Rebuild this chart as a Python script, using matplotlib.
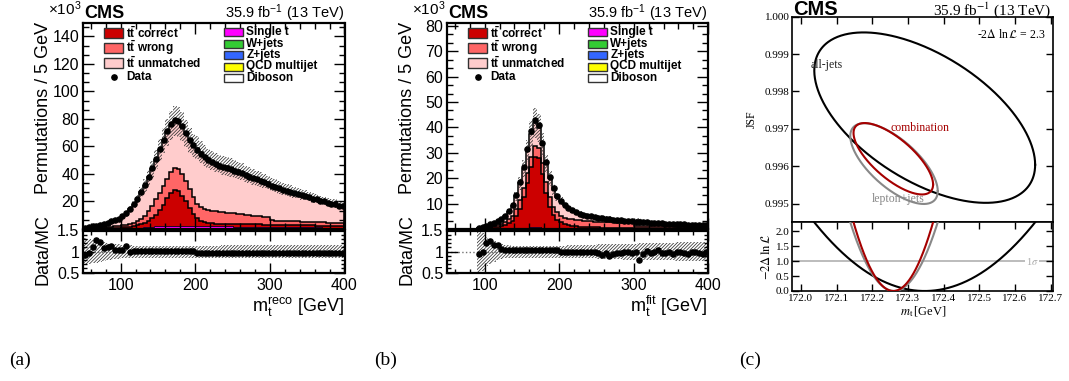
import numpy as np
import matplotlib
matplotlib.use('Agg')
import matplotlib.pyplot as plt
from matplotlib.patches import Rectangle
from matplotlib.lines import Line2D
from matplotlib.ticker import MultipleLocator, FixedLocator, FormatStrFormatter

plt.rcParams['font.family'] = ['Liberation Sans', 'DejaVu Sans']
plt.rcParams['mathtext.fontset'] = 'custom'
plt.rcParams['mathtext.rm'] = 'Liberation Sans'
plt.rcParams['mathtext.it'] = 'Liberation Sans:italic'
plt.rcParams['mathtext.bf'] = 'Liberation Sans:bold'
plt.rcParams['hatch.linewidth'] = 0.55

# ---------------- data (x10^3 permutations per 5 GeV, bins 50..400) ----------------
BIN_LO, BIN_HI, BIN_W = 50, 400, 5

a_data = [1.0, 1.5, 2.0, 2.5, 3.0, 3.5, 4.5, 5.5, 6.5, 7.5,
          9.5, 11.5, 14.5, 18.0, 22.0, 27.0, 32.0, 38.0, 44.0, 51.0,
          58.0, 65.0, 71.0, 76.0, 79.0, 78.5, 75.0, 70.0, 65.0, 61.0,
          57.5, 54.5, 52.0, 50.0, 48.5, 47.0, 46.0, 45.0, 44.5, 43.5,
          42.5, 41.5, 40.5, 39.0, 38.0, 37.0, 36.0, 35.0, 34.0, 33.0,
          31.5, 30.5, 29.5, 28.5, 27.5, 27.0, 26.0, 25.5, 24.5, 24.0,
          23.0, 22.0, 21.5, 20.5, 20.0, 19.0, 18.5, 18.0, 17.0, 16.5]
a_total = [1.08, 1.55, 1.8, 1.95, 2.45, 3.25, 4.1, 4.9, 6.2, 7.2,
           9.1, 10.2, 14.6, 17.8, 21.8, 26.7, 31.6, 37.5, 43.5, 50.5,
           57.5, 64.4, 70.3, 75.2, 78.2, 77.8, 74.3, 69.4, 64.5, 60.5,
           59.0, 55.9, 53.3, 51.3, 49.7, 48.2, 47.2, 46.1, 45.6, 44.6,
           43.6, 42.6, 41.5, 40.0, 39.0, 37.9, 36.9, 35.9, 34.9, 33.8,
           32.3, 31.3, 30.3, 29.2, 28.2, 27.7, 26.7, 26.2, 25.1, 24.6,
           23.6, 22.6, 22.0, 21.0, 20.5, 19.5, 19.0, 18.5, 17.4, 16.9]
a_wrong_top = [0.5, 0.6, 0.7, 0.8, 1.0, 1.2, 1.4, 1.6, 1.9, 2.2,
               2.6, 3.0, 3.6, 4.4, 5.5, 7.2, 9.6, 13.0, 17.0, 21.5,
               26.0, 31.0, 36.5, 41.5, 44.0, 43.5, 40.0, 35.0, 29.0, 23.0,
               18.5, 16.0, 14.5, 13.8, 13.3, 12.9, 12.5, 12.2, 11.9, 11.6,
               11.3, 11.0, 10.7, 10.4, 10.1, 9.8, 9.5, 9.2, 8.9, 8.6,
               6.2, 6.1, 6.0, 5.9, 5.8, 5.7, 5.6, 5.5, 5.4, 5.3,
               5.2, 5.1, 5.0, 4.9, 4.8, 4.7, 4.6, 4.5, 4.4, 4.3]
a_correct_top = [0.3, 0.35, 0.4, 0.45, 0.5, 0.6, 0.7, 0.8, 0.9, 1.0,
                 1.2, 1.4, 1.7, 2.1, 2.7, 3.5, 4.6, 6.0, 8.0, 10.5,
                 13.8, 17.8, 22.2, 26.5, 28.6, 27.6, 24.2, 20.0, 15.2, 11.0,
                 8.0, 6.0, 4.8, 4.3, 4.0, 3.9, 3.8, 3.8, 3.7, 3.7,
                 3.6, 3.6, 3.5, 3.5, 3.4, 3.4, 3.3, 3.3, 3.2, 3.2,
                 3.1, 3.1, 3.0, 3.0, 2.9, 2.9, 2.8, 2.8, 2.7, 2.7,
                 2.6, 2.6, 2.5, 2.5, 2.4, 2.4, 2.3, 2.3, 2.2, 2.2]
a_singlet = [0.05, 0.05, 0.06, 0.07, 0.08, 0.10, 0.12, 0.14, 0.17, 0.20,
             0.24, 0.28, 0.33, 0.40, 0.48, 0.58, 0.70, 0.85, 1.00, 1.15,
             1.30, 1.40, 1.50, 1.60, 1.65, 1.65, 1.60, 1.55, 1.50, 1.45,
             1.40, 1.38, 1.35, 1.32, 1.30, 1.28, 1.25, 1.22, 1.20, 1.18,
             1.15, 1.12, 1.10, 1.08, 1.05, 1.02, 1.00, 0.98, 0.96, 0.94,
             0.92, 0.90, 0.88, 0.86, 0.84, 0.82, 0.80, 0.78, 0.76, 0.74,
             0.72, 0.70, 0.68, 0.66, 0.64, 0.62, 0.60, 0.58, 0.56, 0.55]
a_wjets = [0.02, 0.02, 0.03, 0.03, 0.04, 0.05, 0.06, 0.07, 0.08, 0.09,
           0.10, 0.12, 0.14, 0.16, 0.19, 0.22, 0.25, 0.28, 0.31, 0.34,
           0.37, 0.40, 0.42, 0.44, 0.45, 0.45, 0.45, 0.44, 0.43, 0.42,
           0.42, 0.41, 0.41, 0.40, 0.40, 0.39, 0.39, 0.38, 0.38, 0.37,
           0.37, 0.36, 0.36, 0.35, 0.35, 0.34, 0.34, 0.33, 0.33, 0.32,
           0.32, 0.31, 0.31, 0.30, 0.30, 0.29, 0.29, 0.28, 0.28, 0.27,
           0.27, 0.26, 0.26, 0.25, 0.25, 0.24, 0.24, 0.23, 0.23, 0.22]
a_zjets = [0.01, 0.01, 0.01, 0.01, 0.01, 0.01, 0.02, 0.02, 0.02, 0.02,
           0.03, 0.03, 0.03, 0.04, 0.04, 0.05, 0.05, 0.06, 0.06, 0.07,
           0.07, 0.08, 0.08, 0.08, 0.08, 0.08, 0.08, 0.08, 0.08, 0.08,
           0.08, 0.08, 0.08, 0.07, 0.07, 0.07, 0.07, 0.07, 0.07, 0.07,
           0.07, 0.07, 0.07, 0.06, 0.06, 0.06, 0.06, 0.06, 0.06, 0.06,
           0.06, 0.06, 0.06, 0.05, 0.05, 0.05, 0.05, 0.05, 0.05, 0.05,
           0.05, 0.05, 0.05, 0.04, 0.04, 0.04, 0.04, 0.04, 0.04, 0.04]
a_qcd = [0.03, 0.03, 0.04, 0.04, 0.05, 0.05, 0.06, 0.07, 0.08, 0.09,
         0.10, 0.11, 0.12, 0.14, 0.16, 0.18, 0.20, 0.22, 0.24, 0.26,
         0.28, 0.30, 0.30, 0.30, 0.30, 0.30, 0.29, 0.28, 0.27, 0.26,
         0.26, 0.25, 0.25, 0.24, 0.24, 0.23, 0.23, 0.22, 0.22, 0.22,
         0.21, 0.21, 0.21, 0.20, 0.20, 0.20, 0.19, 0.19, 0.19, 0.18,
         0.18, 0.18, 0.17, 0.17, 0.17, 0.16, 0.16, 0.16, 0.15, 0.15,
         0.15, 0.14, 0.14, 0.14, 0.13, 0.13, 0.13, 0.12, 0.12, 0.12]
a_diboson = [0.0, 0.0, 0.0, 0.0, 0.0, 0.0, 0.0, 0.0, 0.01, 0.01,
             0.01, 0.01, 0.01, 0.01, 0.01, 0.01, 0.01, 0.01, 0.01, 0.01,
             0.01, 0.01, 0.01, 0.01, 0.01, 0.01, 0.01, 0.01, 0.01, 0.01,
             0.01, 0.01, 0.01, 0.01, 0.01, 0.01, 0.01, 0.01, 0.01, 0.01,
             0.01, 0.01, 0.01, 0.01, 0.01, 0.01, 0.01, 0.01, 0.01, 0.01,
             0.01, 0.01, 0.01, 0.01, 0.01, 0.01, 0.01, 0.01, 0.01, 0.01,
             0.01, 0.01, 0.01, 0.01, 0.01, 0.01, 0.01, 0.01, 0.01, 0.01]
a_relunc = [0.32, 0.30, 0.28, 0.26, 0.24, 0.22, 0.20, 0.19, 0.18, 0.17,
            0.16, 0.15, 0.15, 0.14, 0.14, 0.14, 0.14, 0.14, 0.14, 0.14,
            0.14, 0.14, 0.14, 0.14, 0.14, 0.14, 0.14, 0.14, 0.14, 0.14,
            0.14, 0.14, 0.14, 0.14, 0.14, 0.14, 0.14, 0.15, 0.15, 0.15,
            0.15, 0.15, 0.15, 0.15, 0.15, 0.15, 0.15, 0.15, 0.15, 0.15,
            0.15, 0.15, 0.15, 0.15, 0.15, 0.15, 0.15, 0.15, 0.15, 0.15,
            0.15, 0.15, 0.15, 0.15, 0.15, 0.16, 0.16, 0.16, 0.16, 0.16]

b_data = [0, 0, 0, 0, 0, 0, 0, 0,
          0.3, 0.8, 1.3, 1.8, 2.3, 3.0, 4.0, 5.3, 7.0, 9.3,
          13.2, 18.5, 24.5, 31.5, 38.5, 43.0, 41.0, 34.0, 26.5, 20.5,
          16.0, 13.0, 11.0, 9.4, 8.2, 7.3, 6.6, 6.0, 5.6, 5.3,
          5.0, 4.7, 4.5, 4.3, 4.1, 3.9, 3.7, 3.55, 3.4, 3.25,
          3.1, 3.0, 2.9, 2.8, 2.7, 2.6, 2.5, 2.4, 2.3, 2.2,
          2.1, 2.05, 2.0, 1.9, 1.85, 1.8, 1.7, 1.65, 1.6, 1.55, 1.5, 1.45]
b_total = [0, 0, 0, 0, 0, 0, 0, 0,
           0.32, 0.8, 1.08, 1.43, 2.0, 2.59, 3.81, 5.15, 6.8, 9.03,
           12.8, 17.96, 23.8, 30.6, 37.4, 41.7, 39.8, 33.0, 25.7, 19.9,
           15.5, 12.6, 11.0, 9.4, 8.2, 7.3, 6.6, 6.0, 5.6, 5.3,
           5.0, 4.7, 4.6, 4.62, 4.23, 4.33, 3.89, 3.7, 3.5, 3.28,
           3.1, 3.09, 2.96, 3.5, 2.84, 2.55, 2.58, 2.4, 2.23, 2.27,
           2.16, 2.05, 2.1, 1.94, 1.85, 1.86, 1.79, 1.65, 1.63, 1.61, 1.61, 1.45]
b_wrong_top = [0, 0, 0, 0, 0, 0, 0, 0,
               0.2, 0.35, 0.55, 0.8, 1.1, 1.5, 2.0, 2.8, 3.8, 5.3,
               7.7, 11.3, 16.0, 22.0, 28.5, 32.5, 32.0, 26.0, 18.5, 12.5,
               8.8, 6.5, 5.2, 4.5, 4.1, 3.8, 3.6, 3.4, 3.2, 3.1,
               3.0, 2.9, 2.8, 2.75, 2.7, 2.65, 2.6, 2.55, 2.5, 2.45,
               2.4, 2.35, 1.3, 1.27, 1.24, 1.21, 1.18, 1.15, 1.12, 1.09,
               1.06, 1.03, 1.0, 0.98, 0.96, 0.94, 0.92, 0.9, 0.88, 0.86, 0.84, 0.82]
b_correct_top = [0, 0, 0, 0, 0, 0, 0, 0,
                 0.1, 0.2, 0.3, 0.4, 0.6, 0.8, 1.1, 1.6, 2.3, 3.3,
                 5.0, 8.0, 12.5, 18.0, 24.5, 28.5, 28.0, 21.5, 14.0, 8.5,
                 5.5, 3.7, 2.6, 1.9, 1.5, 1.2, 1.0, 0.9, 0.8, 0.75,
                 0.7, 0.65, 0.6, 0.58, 0.55, 0.52, 0.5, 0.48, 0.46, 0.44,
                 0.42, 0.4, 0.38, 0.36, 0.35, 0.34, 0.33, 0.32, 0.31, 0.3,
                 0.29, 0.28, 0.27, 0.26, 0.25, 0.24, 0.23, 0.22, 0.21, 0.2, 0.2, 0.19]
b_singlet = [0, 0, 0, 0, 0, 0, 0, 0,
             0.01, 0.02, 0.03, 0.04, 0.05, 0.06, 0.08, 0.10, 0.13, 0.16,
             0.20, 0.25, 0.30, 0.36, 0.42, 0.46, 0.45, 0.40, 0.33, 0.27,
             0.23, 0.20, 0.18, 0.17, 0.16, 0.15, 0.14, 0.14, 0.13, 0.13,
             0.12, 0.12, 0.12, 0.11, 0.11, 0.11, 0.10, 0.10, 0.10, 0.10,
             0.10, 0.09, 0.09, 0.09, 0.09, 0.09, 0.09, 0.08, 0.08, 0.08,
             0.08, 0.08, 0.08, 0.08, 0.08, 0.07, 0.07, 0.07, 0.07, 0.07, 0.07, 0.07]
b_wjets = [0, 0, 0, 0, 0, 0, 0, 0,
           0.005, 0.01, 0.01, 0.015, 0.02, 0.02, 0.025, 0.03, 0.035, 0.04,
           0.05, 0.06, 0.07, 0.08, 0.09, 0.10, 0.10, 0.09, 0.08, 0.07,
           0.06, 0.055, 0.05, 0.05, 0.045, 0.045, 0.04, 0.04, 0.04, 0.04,
           0.04, 0.04, 0.035, 0.035, 0.035, 0.035, 0.03, 0.03, 0.03, 0.03,
           0.03, 0.03, 0.03, 0.03, 0.03, 0.025, 0.025, 0.025, 0.025, 0.025,
           0.025, 0.025, 0.025, 0.02, 0.02, 0.02, 0.02, 0.02, 0.02, 0.02, 0.02, 0.02]
b_zjets = [0, 0, 0, 0, 0, 0, 0, 0,
           0.0, 0.0, 0.005, 0.005, 0.005, 0.005, 0.01, 0.01, 0.01, 0.01,
           0.015, 0.015, 0.02, 0.02, 0.02, 0.02, 0.02, 0.02, 0.02, 0.015,
           0.015, 0.01, 0.01, 0.01, 0.01, 0.01, 0.01, 0.01, 0.01, 0.01,
           0.01, 0.01, 0.01, 0.01, 0.01, 0.01, 0.01, 0.01, 0.01, 0.01,
           0.01, 0.01, 0.01, 0.01, 0.01, 0.01, 0.01, 0.01, 0.01, 0.01,
           0.01, 0.01, 0.01, 0.01, 0.01, 0.01, 0.01, 0.01, 0.01, 0.01, 0.01, 0.01]
b_qcd = [0, 0, 0, 0, 0, 0, 0, 0,
         0.005, 0.01, 0.01, 0.01, 0.015, 0.015, 0.02, 0.02, 0.025, 0.03,
         0.035, 0.04, 0.05, 0.06, 0.06, 0.07, 0.07, 0.06, 0.06, 0.05,
         0.05, 0.045, 0.04, 0.04, 0.04, 0.035, 0.035, 0.035, 0.035, 0.03,
         0.03, 0.03, 0.03, 0.03, 0.03, 0.03, 0.03, 0.03, 0.03, 0.03,
         0.03, 0.03, 0.03, 0.03, 0.03, 0.03, 0.03, 0.03, 0.03, 0.03,
         0.03, 0.03, 0.03, 0.03, 0.03, 0.03, 0.03, 0.03, 0.03, 0.03, 0.03, 0.03]
b_diboson = [0, 0, 0, 0, 0, 0, 0, 0,
             0, 0, 0, 0, 0, 0, 0, 0, 0, 0,
             0, 0, 0.005, 0.005, 0.005, 0.005, 0.005, 0.005, 0.005, 0,
             0, 0, 0, 0, 0, 0, 0, 0, 0, 0,
             0, 0, 0, 0, 0, 0, 0, 0, 0, 0,
             0, 0, 0, 0, 0, 0, 0, 0, 0, 0,
             0, 0, 0, 0, 0, 0, 0, 0, 0, 0, 0, 0]
b_relunc = [0, 0, 0, 0, 0, 0, 0, 0,
            1.0, 0.45, 0.35, 0.30, 0.25, 0.21, 0.18, 0.16, 0.15, 0.14,
            0.14, 0.14, 0.14, 0.14, 0.14, 0.14, 0.14, 0.14, 0.14, 0.14,
            0.14, 0.14, 0.14, 0.14, 0.15, 0.15, 0.15, 0.15, 0.15, 0.16,
            0.16, 0.16, 0.17, 0.17, 0.17, 0.18, 0.18, 0.18, 0.18, 0.19,
            0.19, 0.19, 0.19, 0.20, 0.20, 0.20, 0.20, 0.20, 0.21, 0.21,
            0.21, 0.21, 0.21, 0.22, 0.22, 0.22, 0.22, 0.22, 0.23, 0.23, 0.23, 0.23]

# panel (c): 2D likelihood contours (mt [GeV], JSF)
ALLJETS = dict(mt=172.347, jsf=0.99730, s_mt=0.204, s_jsf=0.001503, rho=-0.553)
LEPJETS = dict(mt=172.261, jsf=0.99607, s_mt=0.0808, s_jsf=0.000712, rho=-0.68)
COMBINED = dict(mt=172.259, jsf=0.99620, s_mt=0.0735, s_jsf=0.00063, rho=-0.72)
CONTOUR_LEVEL = 2.3

# ---------------- figure ----------------
W, H = 1069, 381
fig = plt.figure(figsize=(W / 100, H / 100), dpi=100)


def fax(l, t, r, b):
    return fig.add_axes([l / W, 1 - b / H, (r - l) / W, (b - t) / H])


def ftext(x, y, s, **kw):
    kw.setdefault('va', 'baseline')
    return fig.text(x / W, 1 - y / H, s, **kw)


def frect(x0, y0, x1, y1, **kw):
    fig.add_artist(Rectangle((x0 / W, 1 - y1 / H), (x1 - x0) / W, (y1 - y0) / H,
                             transform=fig.transFigure, **kw))


edges = np.arange(BIN_LO, BIN_HI + BIN_W, BIN_W)
centers = edges[:-1] + BIN_W / 2

C_COR = '#cc0000'
C_WRO = '#ff6666'
C_UNM = '#ffcccc'
C_ST = '#ff00ff'
C_WJ = '#33cc33'
C_ZJ = '#3366ff'
C_QCD = '#ffff00'
C_DB = '#ffffff'
HATCH = '/' * 10
HATCH_COL = '#333333'
MS = 3.7


def style_hist_axes(ax):
    ax.set_xlim(BIN_LO, BIN_HI)
    ax.xaxis.set_major_locator(MultipleLocator(100))
    ax.xaxis.set_minor_locator(MultipleLocator(20))
    ax.tick_params(which='both', direction='in', top=True, right=True, width=1,
                   labelsize=11.5, pad=3)
    ax.tick_params(which='major', length=8)
    ax.tick_params(which='minor', length=4)
    for s in ax.spines.values():
        s.set_linewidth(1.6)


def hist_panel(xl, xr, data, total, cor_top, wro_top, bkgs, relunc, ymax, major, xlab, tag, tagx):
    data = np.array(data, float)
    total = np.array(total, float)
    cor_top = np.array(cor_top, float)
    wro_top = np.array(wro_top, float)
    relunc = np.array(relunc, float)

    ax = fax(xl, 23.3, xr, 229)
    rax = fax(xl, 230.5, xr, 272.7)

    base = np.zeros(len(total))
    for vals, col in bkgs:
        top = base + np.array(vals, float)
        ax.stairs(top, edges, baseline=base, fill=True, facecolor=col, edgecolor='none', zorder=1.2)
        ax.stairs(top, edges, color='k', lw=0.6, zorder=1.3)
        base = top
    ax.stairs(cor_top, edges, baseline=base, fill=True, facecolor=C_COR, edgecolor='none', zorder=1.0)
    ax.stairs(wro_top, edges, baseline=cor_top, fill=True, facecolor=C_WRO, edgecolor='none', zorder=1.0)
    ax.stairs(total, edges, baseline=wro_top, fill=True, facecolor=C_UNM, edgecolor='none', zorder=1.0)
    for top in (cor_top, wro_top, total):
        ax.stairs(top, edges, color='k', lw=1.1, zorder=1.5)

    ax.stairs(total * (1 + relunc), edges, baseline=total * (1 - relunc), fill=True,
              facecolor='none', edgecolor=HATCH_COL, hatch=HATCH, lw=0, zorder=1.8)
    m = data > 0
    ax.plot(centers[m], data[m], 'o', color='k', ms=MS, zorder=3)

    style_hist_axes(ax)
    ax.set_ylim(0, ymax)
    ax.yaxis.set_major_locator(FixedLocator(list(np.arange(major, ymax, major))))
    ax.yaxis.set_minor_locator(MultipleLocator(major / 3))
    ax.tick_params(labelbottom=False)

    # ratio panel
    idx = np.nonzero(total > 0)[0]
    i0, i1 = idx[0], idx[-1]
    rax.stairs(1 + relunc[i0:i1 + 1], edges[i0:i1 + 2], baseline=1 - relunc[i0:i1 + 1], fill=True,
               facecolor='none', edgecolor=HATCH_COL, hatch=HATCH, lw=0, zorder=1.5)
    rax.axhline(1.0, color='0.45', ls=':', lw=1.0, zorder=1.2)
    mr = (data > 0) & (total > 0)
    rax.plot(centers[mr], data[mr] / total[mr], 'o', color='k', ms=MS, zorder=3, clip_on=True)
    style_hist_axes(rax)
    rax.set_ylim(0.5, 1.5)
    rax.yaxis.set_major_locator(FixedLocator([0.5, 1.0, 1.5]))
    rax.yaxis.set_minor_locator(MultipleLocator(0.1))
    rax.set_yticklabels(['0.5', '1', '1.5'])
    rax.tick_params(which='minor', length=3)
    rax.tick_params(axis='x', which='major', length=7)
    rax.tick_params(axis='x', pad=4)

    # labels
    fig.text((xl - 40) / W, 1 - 22 / H, 'Permutations / 5 GeV', rotation=90, ha='center', va='top', fontsize=13)
    fig.text((xl - 40) / W, 1 - 250 / H, 'Data/MC', rotation=90, ha='center', va='center', fontsize=13)
    ftext(xr - 1, 312, xlab, ha='right', fontsize=13)
    ftext(xl + 0.5, 18.3, 'CMS', fontweight='bold', fontsize=13)
    ftext(xl - 2, 15, r'$\times10^{3}$', ha='right', fontsize=11)
    ftext(xr - 1, 18.3, r'35.9 fb$^{-1}$ (13 TeV)', ha='right', fontsize=10.5)
    ftext(tagx, 365, tag, ha='center', fontsize=14, family='Liberation Serif')

    # legend
    rows_l = [(33, C_COR, r'$\mathbf{t\bar{t}}$ correct'),
              (48, C_WRO, r'$\mathbf{t\bar{t}}$ wrong'),
              (63, C_UNM, r'$\mathbf{t\bar{t}}$ unmatched')]
    for y, col, lab in rows_l:
        frect(xl + 21, y - 4.6, xl + 40, y + 4.6, facecolor=col, edgecolor='0.2', lw=1.0)
        ftext(xl + 43, y, lab, va='center', fontsize=8.5, fontweight='bold')
    fig.add_artist(Line2D([(xl + 30.5) / W], [1 - 77 / H], marker='o', color='k', ms=3.8,
                          transform=fig.transFigure))
    ftext(xl + 43, 77, 'Data', va='center', fontsize=8.5, fontweight='bold')
    rows_r = [(32, C_ST, 'Single t'), (43.5, C_WJ, 'W+jets'), (55, C_ZJ, 'Z+jets'),
              (66.5, C_QCD, 'QCD multijet'), (78, C_DB, 'Diboson')]
    for y, col, lab in rows_r:
        frect(xl + 141, y - 4, xl + 160, y + 4, facecolor=col, edgecolor='0.2', lw=1.0)
        ftext(xl + 163, y, lab, va='center', fontsize=8.5, fontweight='bold')
    return ax, rax


hist_panel(83.3, 344.5, a_data, a_total, a_correct_top, a_wrong_top,
           [(a_diboson, C_DB), (a_qcd, C_QCD), (a_zjets, C_ZJ), (a_wjets, C_WJ), (a_singlet, C_ST)],
           a_relunc, 149.5, 20, r'$\mathrm{m}_{\mathrm{t}}^{\mathrm{reco}}$ [GeV]', '(a)', 20)
hist_panel(447.3, 708.3, b_data, b_total, b_correct_top, b_wrong_top,
           [(b_diboson, C_DB), (b_qcd, C_QCD), (b_zjets, C_ZJ), (b_wjets, C_WJ), (b_singlet, C_ST)],
           b_relunc, 81.0, 10, r'$\mathrm{m}_{\mathrm{t}}^{\mathrm{fit}}$ [GeV]', '(b)', 386)

# ---------------- panel (c) ----------------
SERIF = 'Liberation Serif'
cm = fax(792.3, 16.7, 1052.7, 222.3)
cl = fax(792.3, 222.3, 1052.7, 291)
XL = (171.976, 172.7056)
tt = np.linspace(0, 2 * np.pi, 500)
k = np.sqrt(CONTOUR_LEVEL)
mgrid = np.linspace(XL[0], XL[1], 600)
for par, col in ((ALLJETS, 'black'), (LEPJETS, '#888888'), (COMBINED, '#a50000')):
    x = par['mt'] + k * par['s_mt'] * np.cos(tt)
    y = par['jsf'] + k * par['s_jsf'] * (par['rho'] * np.cos(tt) + np.sqrt(1 - par['rho'] ** 2) * np.sin(tt))
    cm.plot(x, y, color=col, lw=1.5)
    cl.plot(mgrid, ((mgrid - par['mt']) / par['s_mt']) ** 2, color=col, lw=1.5, zorder=3)

cl.axhline(1.0, color='#aaaaaa', lw=1.1, zorder=1)
cl.text(172.648, 1.0, r'1$\sigma$', color='#aaaaaa', fontsize=7.5, ha='center', va='center',
        family=SERIF, math_fontfamily='stix', bbox=dict(facecolor='white', edgecolor='none', pad=0.5), zorder=2)

cm.set_xlim(*XL)
cm.set_ylim(0.9945, 1.000)
cl.set_xlim(*XL)
cl.set_ylim(0, 2.3)
ticks_x = [172.0, 172.1, 172.2, 172.3, 172.4, 172.5, 172.6, 172.7]
for a in (cm, cl):
    a.xaxis.set_major_locator(FixedLocator(ticks_x))
    a.tick_params(which='both', direction='in', top=True, right=True, length=5, width=1,
                  labelsize=8, labelfontfamily=SERIF, pad=2)
    for s in a.spines.values():
        s.set_linewidth(1.2)
cm.tick_params(labelbottom=False, bottom=False)
cm.yaxis.set_major_locator(FixedLocator([0.995, 0.996, 0.997, 0.998, 0.999, 1.000]))
cm.yaxis.set_major_formatter(FormatStrFormatter('%.3f'))
cl.yaxis.set_major_locator(FixedLocator([0.0, 0.5, 1.0, 1.5, 2.0]))
cl.yaxis.set_major_formatter(FormatStrFormatter('%.1f'))
cl.xaxis.set_major_formatter(FormatStrFormatter('%.1f'))

cm.text(172.071, 0.99872, 'all-jets', fontsize=8.5, family=SERIF, color='#222222', ha='center', va='center')
cm.text(172.335, 0.99703, 'combination', fontsize=8.5, family=SERIF, color='#a50000', ha='center', va='center')
cm.text(172.273, 0.99511, 'lepton+jets', fontsize=8.5, family=SERIF, color='#888888', ha='center', va='center')
cm.text(172.686, 0.99953, r'-2$\Delta$ ln$\,\mathcal{L}$ = 2.3', fontsize=8.5, family=SERIF,
        math_fontfamily='stix', ha='right', va='center')

fig.text(752 / W, 1 - 119 / H, 'JSF', rotation=90, ha='center', va='center', fontsize=8.5, family=SERIF)
fig.text(767 / W, 1 - 257 / H, r'$-2\Delta\,\ln\mathcal{L}$', rotation=90, ha='center', va='center',
         fontsize=9, math_fontfamily='stix')
fig.text(923 / W, 1 - 312 / H, r'$m_{\mathrm{t}}\,$[GeV]', ha='center', va='center', fontsize=9,
         family=SERIF, math_fontfamily='stix')
ftext(792.8, 15, 'CMS', fontweight='bold', fontsize=14.5)
ftext(1051.5, 14.5, r'35.9 fb$^{-1}$ (13 TeV)', ha='right', fontsize=11, family=SERIF, math_fontfamily='stix')
ftext(750, 365, '(c)', ha='center', fontsize=14, family=SERIF)

fig.savefig('out.png', dpi=100)
